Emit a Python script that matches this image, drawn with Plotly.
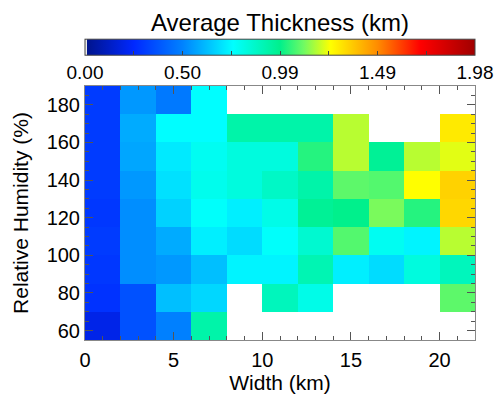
import plotly.graph_objects as go

# Bin centres
width_km = [1, 3, 5, 7, 9, 11, 13, 15, 17, 19, 21]
rel_humidity = [62.5, 77.5, 92.5, 107.5, 122.5, 137.5, 152.5, 167.5, 182.5]

N = None
# Average thickness (km), rows = humidity bins (bottom to top), cols = width bins
row_62 = [0.20, 0.36, 0.49, 0.93, N, N, N, N, N, N, N]
row_77 = [0.275, 0.36, 0.62, 0.67, N, 0.89, 0.80, N, N, N, 1.09]
row_92 = [0.29, 0.52, 0.54, 0.62, 0.73, 0.73, 0.91, 0.72, 0.68, 0.82, 0.89]
row_107 = [0.30, 0.52, 0.58, 0.72, 0.68, 0.76, 0.85, 1.08, 0.78, 0.73, 1.18]
row_122 = [0.29, 0.52, 0.66, 0.76, 0.72, 0.80, 0.97, 0.99, 1.12, 1.03, 1.33]
row_137 = [0.30, 0.54, 0.69, 0.79, 0.82, 0.87, 0.93, 1.09, 1.08, 1.25, 1.34]
row_152 = [0.30, 0.57, 0.71, 0.78, 0.82, 0.82, 1.03, 1.18, 0.97, 1.18, 1.22]
row_167 = [0.30, 0.58, 0.75, 0.75, 0.93, 0.93, 0.93, 1.18, N, N, 1.29]
row_182 = [0.30, 0.54, 0.47, 0.75, N, N, N, N, N, N, N]
thickness = [row_62, row_77, row_92, row_107, row_122, row_137, row_152, row_167, row_182]

zmax = 1.98
cb_tickvals = [zmax * i / 8 for i in range(9)]
cb_ticktext = ["0.00", "", "0.50", "", "0.99", "", "1.49", "", "1.98"]
cb_title = "Average Thickness (km)"

colorscale = [
    [0.0, "rgb(235,235,235)"],
    [0.004, "rgb(235,235,235)"],
    [0.0041, "rgb(0,20,140)"],
    [0.125, "rgb(0,40,255)"],
    [0.25, "rgb(0,130,255)"],
    [0.38, "rgb(0,255,255)"],
    [0.50, "rgb(0,240,140)"],
    [0.56, "rgb(110,250,100)"],
    [0.63, "rgb(255,255,0)"],
    [0.75, "rgb(255,140,0)"],
    [0.86, "rgb(255,0,0)"],
    [1.0, "rgb(160,0,0)"],
]

FONT = "Liberation Sans, Arial, Helvetica, sans-serif"

fig = go.Figure(go.Heatmap(
    x=width_km, y=rel_humidity, z=thickness,
    zmin=0, zmax=zmax, colorscale=colorscale,
    hoverongaps=False,
    colorbar=dict(
        orientation="h", len=1, lenmode="fraction", thickness=16,
        x=0.5, xanchor="center", y=0.992, yanchor="bottom",
        xpad=0, ypad=0,
        outlinewidth=1, outlinecolor="#444",
        tickmode="array", tickvals=cb_tickvals, ticktext=cb_ticktext,
        ticks="inside", ticklen=4, tickcolor="#444",
        tickfont=dict(family=FONT, size=19, color="black"),
    ),
))

fig.add_annotation(
    text=cb_title, xref="paper", yref="paper", x=0.5, y=1 + (86 - 22) / 254,
    xanchor="center", yanchor="middle", showarrow=False,
    font=dict(family=FONT, size=24, color="black"),
)

fig.update_layout(
    width=494, height=394,
    margin=dict(l=85, r=19, t=86, b=54, autoexpand=False),
    paper_bgcolor="white", plot_bgcolor="white",
    font=dict(family=FONT, size=20, color="black"),
    xaxis=dict(
        range=[0, 22], tickvals=[0, 5, 10, 15, 20],
        ticks="inside", ticklen=8, tickcolor="#555",
        minor=dict(dtick=1, ticks="inside", ticklen=4, tickcolor="#555"),
        showline=True, linecolor="#888", mirror="ticks",
        showgrid=False, zeroline=False,
        tickfont=dict(size=20), ticklabelstandoff=2,
        title=dict(text="Width (km)", font=dict(size=21), standoff=0),
    ),
    yaxis=dict(
        range=[55, 190], tickvals=[60, 80, 100, 120, 140, 160, 180],
        ticks="inside", ticklen=8, tickcolor="#555",
        minor=dict(dtick=5, ticks="inside", ticklen=4, tickcolor="#555"),
        showline=True, linecolor="#888", mirror="ticks",
        showgrid=False, zeroline=False,
        tickfont=dict(size=20),
        title=dict(text="Relative Humidity (%)", font=dict(size=21), standoff=12),
    ),
)

fig.write_html("out.html")
